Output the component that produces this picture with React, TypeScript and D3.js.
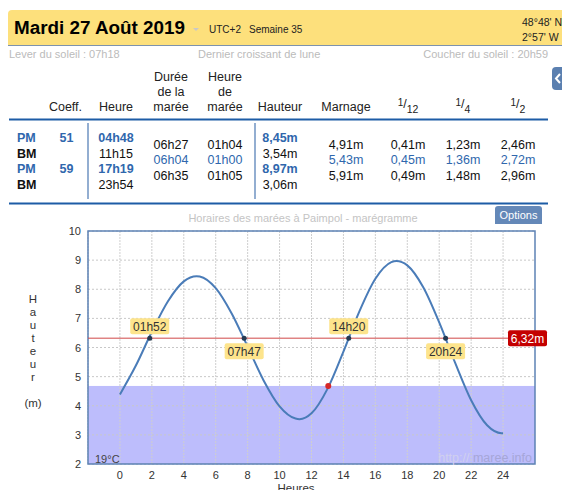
import React, { useEffect, useRef } from 'react';
import * as d3 from 'd3';

const hours = [0, 1, 2, 3, 4, 4.8, 5, 6, 7, 8, 9, 10, 11, 11.25, 12, 13, 14, 15, 16, 17, 17.32, 18, 19, 20, 21, 22, 23, 23.9, 24];
const heights = [4.39, 5.38, 6.54, 7.58, 8.27, 8.45, 8.44, 8.04, 7.17, 6.03, 4.87, 3.98, 3.56, 3.54, 3.74, 4.58, 5.86, 7.24, 8.36, 8.93, 8.97, 8.82, 8.07, 6.86, 5.47, 4.19, 3.33, 3.06, 3.06];

const refLevel = 6.32;
const waterLevel = 4.68;
const nowHour = 13.05;
const crossTimes = [1.867, 7.783, 14.333, 20.4];
const crossLabels = ['01h52', '07h47', '14h20', '20h24'];
const crossAbove = [true, false, true, false];

const xTicks = [0, 2, 4, 6, 8, 10, 12, 14, 16, 18, 20, 22, 24];
const yTicks = [2, 3, 4, 5, 6, 7, 8, 9, 10];

// table
const tideType = ['PM', 'BM', 'PM', 'BM'];
const coeffs = ['51', '', '59', ''];
const tideHours = ['04h48', '11h15', '17h19', '23h54'];
const tideHeights = ['8,45m', '3,54m', '8,97m', '3,06m'];
const durations = ['06h27', '06h04', '06h35'];
const tideHourLen = ['01h04', '01h00', '01h05'];
const marnages = ['4,91m', '5,43m', '5,91m'];
const twelfths = ['0,41m', '0,45m', '0,49m'];
const quarters = ['1,23m', '1,36m', '1,48m'];
const halves = ['2,46m', '2,72m', '2,96m'];

const FONT = 'Arial, "Liberation Sans", sans-serif';
const BLUE = '#2f67ad';

const App: React.FC = () => {
  const svgRef = useRef<SVGSVGElement>(null);

  useEffect(() => {
    if (!svgRef.current) return;
    const svg = d3.select(svgRef.current);
    svg.selectAll('*').remove();
    svg.style('font-family', FONT);

    // ---------- header ----------
    svg.append('path')
      .attr('d', 'M8,45 V14 Q8,10 12,10 H562 V45 Z')
      .attr('fill', '#fde07c');
    svg.append('line').attr('x1', 8).attr('x2', 562).attr('y1', 45.5).attr('y2', 45.5)
      .attr('stroke', '#7d92ad').attr('stroke-width', 1);
    svg.append('text').attr('x', 14).attr('y', 34).attr('font-size', 17.5).attr('font-weight', 'bold')
      .attr('textLength', 171).attr('lengthAdjust', 'spacingAndGlyphs')
      .attr('fill', '#000').text('Mardi 27 Août 2019');
    svg.append('path').attr('d', 'M193,28 L199,28 L196,31 Z').attr('fill', '#c8c8c8');
    svg.append('text').attr('x', 209).attr('y', 33).attr('font-size', 10).attr('fill', '#222').text('UTC+2');
    svg.append('text').attr('x', 249).attr('y', 33).attr('font-size', 10).attr('fill', '#222').text('Semaine 35');
    svg.append('text').attr('x', 522).attr('y', 26).attr('font-size', 10.5).attr('fill', '#222').text("48°48' N");
    svg.append('text').attr('x', 522).attr('y', 41).attr('font-size', 10.5).attr('fill', '#222').text("2°57' W");

    svg.append('text').attr('x', 9).attr('y', 58).attr('font-size', 11).attr('fill', '#bbb').text('Lever du soleil : 07h18');
    svg.append('text').attr('x', 198).attr('y', 58).attr('font-size', 11).attr('fill', '#bbb').text('Dernier croissant de lune');
    svg.append('text').attr('x', 548).attr('y', 58).attr('font-size', 11).attr('fill', '#bbb')
      .attr('text-anchor', 'end').text('Coucher du soleil : 20h59');

    // little collapse tab
    svg.append('path').attr('d', 'M562,67 H556 Q552,67 552,71 V86 Q552,90 556,90 H562 Z').attr('fill', '#5b80b0');
    svg.append('path').attr('d', 'M560,74 L556,78.5 L560,83').attr('fill', 'none').attr('stroke', '#fff').attr('stroke-width', 2);

    // ---------- table ----------
    const head = svg.append('g').attr('font-size', 12.5).attr('fill', '#222').attr('text-anchor', 'middle');
    const headCol = (x: number, lines: string[]) => {
      lines.forEach((l, i) => {
        head.append('text').attr('x', x).attr('y', 110.5 - (lines.length - 1 - i) * 15).text(l);
      });
    };
    headCol(65.5, ['Coeff.']);
    headCol(116, ['Heure']);
    headCol(171, ['Durée', 'de la', 'marée']);
    headCol(225, ['Heure', 'de', 'marée']);
    headCol(280, ['Hauteur']);
    headCol(346, ['Marnage']);
    const frac = (x: number, den: string) => {
      const t = head.append('text').attr('x', x).attr('y', 110.5);
      t.append('tspan').attr('font-size', 10).attr('dy', -5).text('1');
      t.append('tspan').attr('font-size', 12.5).attr('dy', 2).text('/');
      t.append('tspan').attr('font-size', 10.5).attr('dy', 5).text(den);
    };
    frac(408, '12');
    frac(463, '4');
    frac(518, '2');

    svg.append('line').attr('x1', 9).attr('x2', 548).attr('y1', 119.5).attr('y2', 119.5)
      .attr('stroke', '#1d5ca6').attr('stroke-width', 2);
    svg.append('line').attr('x1', 9).attr('x2', 548).attr('y1', 203.5).attr('y2', 203.5)
      .attr('stroke', '#1d5ca6').attr('stroke-width', 2);
    [88, 255].forEach((x) => {
      svg.append('line').attr('x1', x).attr('x2', x).attr('y1', 123).attr('y2', 199)
        .attr('stroke', '#6f93c2').attr('stroke-width', 1.5);
    });

    const rowY = [142, 157.7, 173.4, 189.2];
    const midY = [148.5, 164, 179.5];
    const body = svg.append('g').attr('font-size', 12.5);
    tideType.forEach((t, i) => {
      const pm = t === 'PM';
      const col = pm ? BLUE : '#111';
      const w = pm ? 'bold' : 'normal';
      body.append('text').attr('x', 17).attr('y', rowY[i]).attr('fill', col).attr('font-weight', 'bold').text(t);
      body.append('text').attr('x', 66.5).attr('y', rowY[i]).attr('fill', col).attr('font-weight', w)
        .attr('text-anchor', 'middle').text(coeffs[i]);
      body.append('text').attr('x', 116).attr('y', rowY[i]).attr('fill', col).attr('font-weight', w)
        .attr('text-anchor', 'middle').text(tideHours[i]);
      body.append('text').attr('x', 280).attr('y', rowY[i]).attr('fill', col).attr('font-weight', w)
        .attr('text-anchor', 'middle').text(tideHeights[i]);
    });
    const midCols: [number, string[]][] = [
      [171, durations], [225, tideHourLen], [346, marnages], [408, twelfths], [463, quarters], [518, halves],
    ];
    midCols.forEach(([x, vals]) => {
      vals.forEach((v, i) => {
        body.append('text').attr('x', x).attr('y', midY[i]).attr('text-anchor', 'middle')
          .attr('fill', i === 1 ? BLUE : '#111').text(v);
      });
    });

    // ---------- chart ----------
    const left = 88, right = 535, top = 231, bottom = 464;
    const x = d3.scaleLinear().domain([-2, 26]).range([left, right]);
    const y = d3.scaleLinear().domain([2, 10]).range([bottom, top]);

    svg.append('text').attr('x', 303).attr('y', 222).attr('text-anchor', 'middle').attr('font-size', 11)
      .attr('fill', '#c4c4c4').text('Horaires des marées à Paimpol - marégramme');

    svg.append('path').attr('d', 'M495,224 V209 Q495,206 498,206 H539 Q542,206 542,209 V224 Z').attr('fill', '#6488b8');
    svg.append('text').attr('x', 518.5).attr('y', 219).attr('text-anchor', 'middle').attr('font-size', 11)
      .attr('fill', '#fff').text('Options');

    // water band
    svg.append('rect').attr('x', left).attr('y', y(waterLevel)).attr('width', right - left)
      .attr('height', bottom - y(waterLevel)).attr('fill', '#bdbdfc');

    const grid = svg.append('g');
    grid.selectAll('line.v').data(xTicks.concat([-2])).enter().append('line')
      .attr('x1', (d) => x(d)).attr('x2', (d) => x(d)).attr('y1', top).attr('y2', bottom)
      .attr('stroke', '#cfcfcf').attr('stroke-dasharray', '2,1').attr('stroke-width', 1);
    grid.selectAll('line.h').data(yTicks).enter().append('line')
      .attr('x1', left).attr('x2', right).attr('y1', (d) => y(d)).attr('y2', (d) => y(d))
      .attr('stroke', '#c8c8c8').attr('stroke-dasharray', '2,2').attr('stroke-width', 1);

    svg.append('rect').attr('x', left).attr('y', top).attr('width', right - left).attr('height', bottom - top)
      .attr('fill', 'none').attr('stroke', '#5d82b5').attr('stroke-width', 1.5);

    svg.append('text').attr('x', 95).attr('y', 463).attr('font-size', 11).attr('fill', '#444').text('19°C');
    const wm = svg.append('text').attr('x', 532).attr('y', 462).attr('font-size', 12.5).attr('text-anchor', 'end');
    wm.append('tspan').attr('fill', '#d0d0ee').text('http:// ');
    wm.append('tspan').attr('fill', '#a6a6d8').text('maree.info');

    // reference line
    svg.append('line').attr('x1', left).attr('x2', right).attr('y1', y(refLevel)).attr('y2', y(refLevel))
      .attr('stroke', '#d04848').attr('stroke-width', 1);

    const pts = hours.map((h, i) => [h, heights[i]] as [number, number]);
    const line = d3.line<[number, number]>().x((d) => x(d[0])).y((d) => y(d[1])).curve(d3.curveMonotoneX);
    svg.append('path').datum(pts).attr('d', line).attr('fill', 'none')
      .attr('stroke', '#4a7cb8').attr('stroke-width', 2);

    crossTimes.forEach((t, i) => {
      svg.append('circle').attr('cx', x(t)).attr('cy', y(refLevel)).attr('r', 2.5).attr('fill', '#253a52');
      const cy = crossAbove[i] ? y(refLevel) - 12 : y(refLevel) + 13;
      svg.append('rect').attr('x', x(t) - 19.5).attr('y', cy - 8).attr('width', 39).attr('height', 16)
        .attr('rx', 2).attr('fill', '#fde48c');
      svg.append('text').attr('x', x(t)).attr('y', cy + 4.5).attr('text-anchor', 'middle').attr('font-size', 12)
        .attr('fill', '#333').text(crossLabels[i]);
    });

    svg.append('circle').attr('cx', x(nowHour)).attr('cy', y(waterLevel)).attr('r', 3).attr('fill', '#d62828');

    // level flag
    svg.append('rect').attr('x', 508).attr('y', y(refLevel) - 8).attr('width', 39).attr('height', 16)
      .attr('rx', 2).attr('fill', '#c40000');
    svg.append('text').attr('x', 527.5).attr('y', y(refLevel) + 4.5).attr('text-anchor', 'middle')
      .attr('font-size', 12).attr('fill', '#fff').text('6,32m');

    // axes labels
    svg.append('g').selectAll('text').data(yTicks).enter().append('text')
      .attr('x', 81).attr('y', (d) => y(d) + 4).attr('text-anchor', 'end').attr('font-size', 11)
      .attr('fill', '#333').text((d) => d);
    svg.append('g').selectAll('text').data(xTicks).enter().append('text')
      .attr('x', (d) => x(d)).attr('y', 479).attr('text-anchor', 'middle').attr('font-size', 11)
      .attr('fill', '#333').text((d) => d);

    svg.append('text').attr('x', 296).attr('y', 492).attr('text-anchor', 'middle').attr('font-size', 11.5)
      .attr('fill', '#333').text('Heures');
    'Hauteur'.split('').forEach((c, i) => {
      svg.append('text').attr('x', 33).attr('y', 303 + i * 13).attr('text-anchor', 'middle')
        .attr('font-size', 11.5).attr('fill', '#333').text(c);
    });
    svg.append('text').attr('x', 33).attr('y', 407).attr('text-anchor', 'middle').attr('font-size', 11.5)
      .attr('fill', '#333').text('(m)');
  }, []);

  return (
    <div style={{ position: 'absolute', left: 0, top: 0 }}>
      <svg ref={svgRef} width={562} height={490} style={{ display: 'block' }} />
    </div>
  );
};

export default App;
